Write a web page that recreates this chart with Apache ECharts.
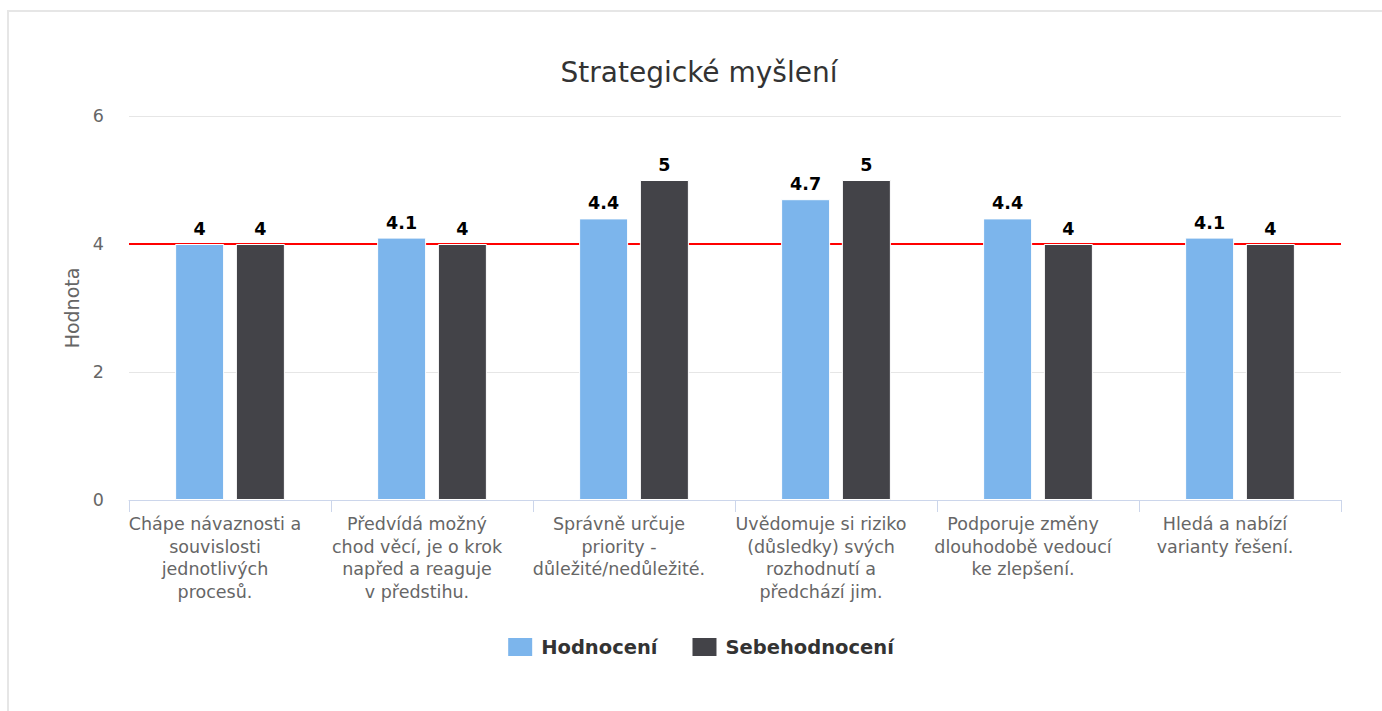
<!DOCTYPE html>
<html>
<head>
<meta charset="utf-8">
<script src="https://cdn.jsdelivr.net/npm/echarts@6/dist/echarts.min.js"></script>
<style>
  html, body { margin: 0; padding: 0; background: #fff; overflow: hidden; }
  #frame { position: absolute; left: 7px; top: 10px; width: 1400px; height: 720px; border: 2px solid #e6e6e6; box-sizing: border-box; }
  #chart { position: absolute; left: 0; top: 0; width: 1400px; height: 711px; }
</style>
</head>
<body>
<div id="frame"></div>
<div id="chart"></div>
<script>
const titleText = 'Strategické myšlení';
const yAxisName = 'Hodnota';
const categories = [
  'Chápe návaznosti a\nsouvislosti\njednotlivých\nprocesů.',
  'Předvídá možný\nchod věcí, je o krok\nnapřed a reaguje\nv předstihu.',
  'Správně určuje\npriority -\ndůležité/nedůležité.',
  'Uvědomuje si riziko\n(důsledky) svých\nrozhodnutí a\npředchází jim.',
  'Podporuje změny\ndlouhodobě vedoucí\nke zlepšení.',
  'Hledá a nabízí\nvarianty řešení.'
];
const seriesNames = ['Hodnocení', 'Sebehodnocení'];
const hodnoceni = [4, 4.1, 4.4, 4.7, 4.4, 4.1];
const sebehodnoceni = [4, 4, 5, 5, 4, 4];
const yTicks = { min: 0, max: 6, interval: 2 };
const referenceValue = 4;

const font = '"DejaVu Sans"';
const chart = echarts.init(document.getElementById('chart'), null, { renderer: 'svg' });

const labelCfg = {
  show: true,
  position: 'top',
  distance: 6,
  color: '#000',
  fontFamily: font,
  fontWeight: 'bold',
  fontSize: 17.5,
  textBorderColor: '#fff',
  textBorderWidth: 2
};

chart.setOption({
  animation: false,
  textStyle: { fontFamily: font },
  title: {
    text: titleText,
    left: 694,
    top: 53,
    textAlign: 'center',
    textStyle: { fontFamily: font, fontSize: 28, fontWeight: 'normal', color: '#333' }
  },
  legend: {
    data: seriesNames,
    left: 'center',
    top: 631,
    icon: 'rect',
    itemWidth: 26,
    itemHeight: 20,
    itemGap: 33,
    textStyle: { fontFamily: font, fontSize: 19.5, fontWeight: 'bold', color: '#333', padding: [0, 0, 0, 3] }
  },
  grid: { left: 129, right: 59, top: 116, bottom: 211, containLabel: false },
  xAxis: {
    type: 'category',
    data: categories,
    axisLine: { lineStyle: { color: '#ccd6eb', width: 1 } },
    axisTick: { show: true, length: 12, lineStyle: { color: '#ccd6eb' } },
    axisLabel: {
      interval: 0,
      margin: 13,
      color: '#666',
      fontFamily: font,
      fontSize: 17.5,
      lineHeight: 22.5,
      align: 'center',
      padding: [0, 30, 0, 0]
    }
  },
  yAxis: {
    type: 'value',
    min: yTicks.min,
    max: yTicks.max,
    interval: yTicks.interval,
    name: yAxisName,
    nameLocation: 'middle',
    nameGap: 47,
    nameTextStyle: { color: '#666', fontFamily: font, fontSize: 19 },
    axisLine: { show: false },
    axisTick: { show: false },
    axisLabel: { color: '#666', fontFamily: font, fontSize: 17.5, margin: 25 },
    splitLine: { lineStyle: { color: '#e6e6e6', width: 1 } }
  },
  series: [
    {
      type: 'line',
      data: [],
      z: 1,
      silent: true,
      markLine: {
        z: 1,
        silent: true,
        symbol: 'none',
        label: { show: false },
        lineStyle: { color: '#ff0000', width: 2, type: 'solid' },
        data: [{ yAxis: referenceValue }]
      }
    },
    {
      name: seriesNames[0],
      type: 'bar',
      z: 3,
      data: hodnoceni,
      barWidth: 49,
      barGap: '24%',
      itemStyle: { color: '#7cb5ec', borderColor: '#fff', borderWidth: 1 },
      label: labelCfg
    },
    {
      name: seriesNames[1],
      type: 'bar',
      z: 3,
      data: sebehodnoceni,
      barWidth: 49,
      barGap: '24%',
      itemStyle: { color: '#434348', borderColor: '#fff', borderWidth: 1 },
      label: labelCfg
    }
  ]
});
</script>
</body>
</html>
